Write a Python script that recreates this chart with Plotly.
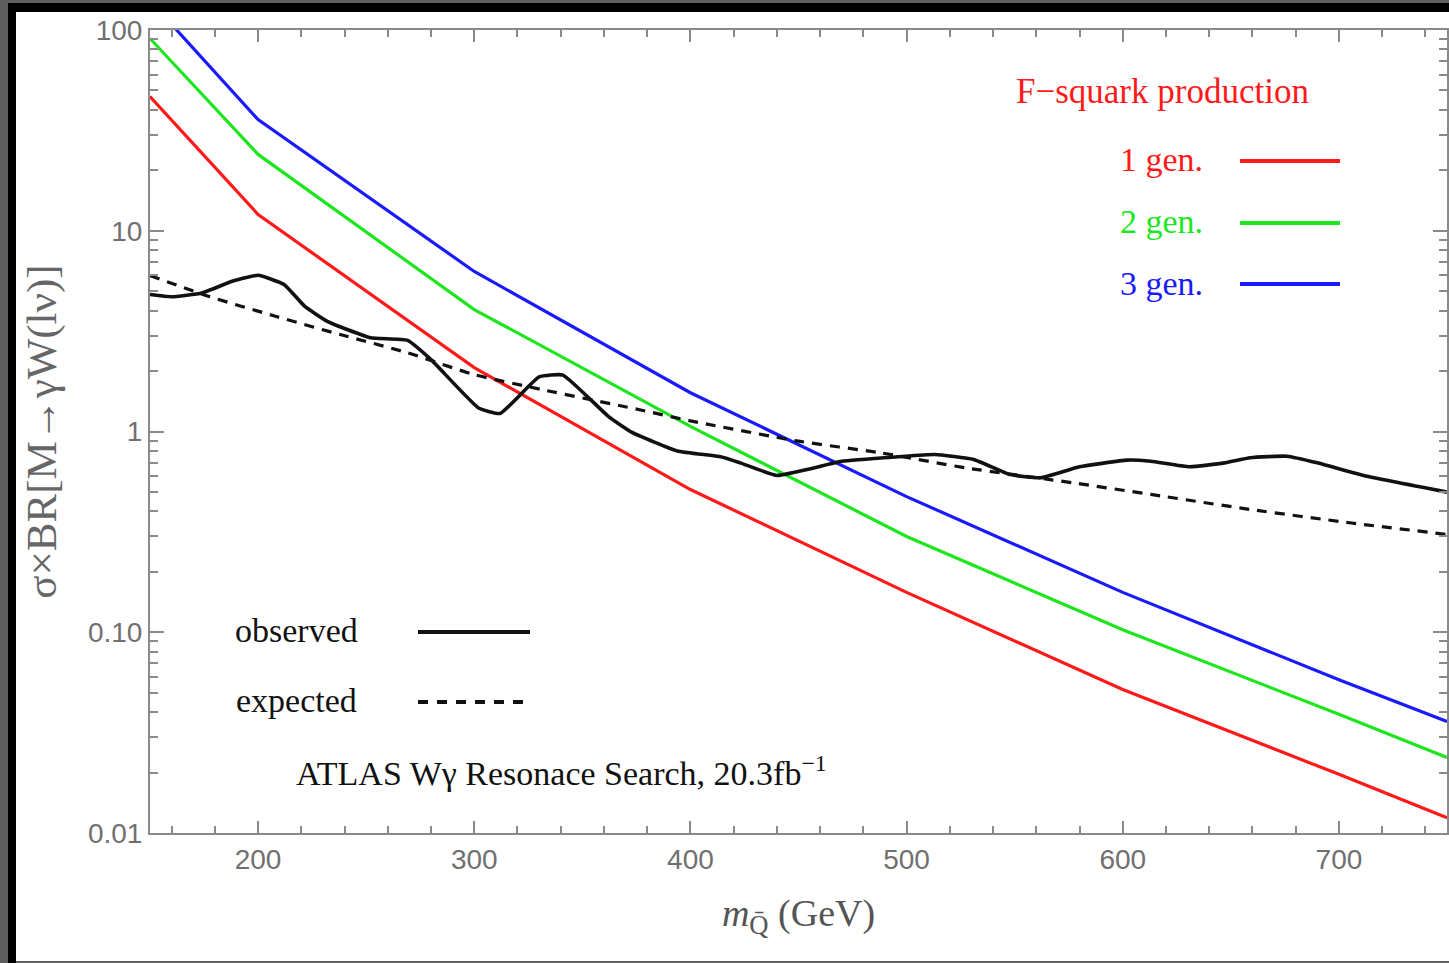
import plotly.graph_objects as go

# ---------------- data ----------------
mass_theory = [150, 200, 300, 400, 500, 600, 700, 750]
gen1 = [46.6, 12.05, 2.08, 0.514, 0.158, 0.0519, 0.0196, 0.0119]
gen2 = [90.7, 24.0, 4.05, 1.06, 0.30, 0.103, 0.039, 0.0238]
gen3 = [140.0, 35.8, 6.27, 1.56, 0.474, 0.158, 0.058, 0.0359]

obs_mass = [150, 160, 174, 188, 200, 212, 221.5, 232, 252, 269, 280, 302, 312, 330, 341,
            362, 373, 394, 414, 423, 440, 454, 470, 496, 513, 531, 548, 562, 580, 602,
            613, 631, 647, 659, 676, 690, 713, 750]
obs_xsec = [4.81, 4.69, 4.9, 5.6, 6.0, 5.4, 4.21, 3.54, 2.93, 2.85, 2.28, 1.31, 1.23, 1.87, 1.91,
            1.19, 0.99, 0.80, 0.748, 0.698, 0.604, 0.647, 0.711, 0.748, 0.768, 0.726, 0.61, 0.588, 0.667, 0.72,
            0.711, 0.667, 0.698, 0.74, 0.753, 0.698, 0.598, 0.499]

exp_mass = [150, 177, 208, 238, 269, 300, 331, 377, 400, 450, 488, 527, 577, 613, 659, 705, 750]
exp_xsec = [5.98, 4.72, 3.75, 3.04, 2.47, 1.92, 1.62, 1.28, 1.13, 0.895, 0.783, 0.66, 0.555, 0.486, 0.409, 0.351, 0.307]

y_tickvals = [0.01, 0.1, 1, 10, 100]
y_ticktext = ["0.01", "0.10", "1", "10", "100"]
x_tickvals = [200, 300, 400, 500, 600, 700]

# ---------------- figure ----------------
W, H = 1449, 963
L, R, T, B = 150, 2, 30, 130
PW, PH = W - L - R, H - T - B


def px2x(px):
    return (px - L) / PW


def py2y(py):
    return (H - B - py) / PH


fig = go.Figure()
fig.add_trace(go.Scatter(x=mass_theory, y=gen1, mode="lines", line=dict(color="#ff1a1a", width=3.2), showlegend=False))
fig.add_trace(go.Scatter(x=mass_theory, y=gen2, mode="lines", line=dict(color="#1ee61e", width=3.2), showlegend=False))
fig.add_trace(go.Scatter(x=mass_theory, y=gen3, mode="lines", line=dict(color="#1a1aff", width=3.2), showlegend=False))
fig.add_trace(go.Scatter(x=exp_mass, y=exp_xsec, mode="lines", line=dict(color="#111111", width=3.2, dash="10px,8px", shape="spline", smoothing=0.6), showlegend=False))
fig.add_trace(go.Scatter(x=obs_mass, y=obs_xsec, mode="lines", line=dict(color="#111111", width=3.6, shape="spline", smoothing=0.4), showlegend=False))

axis_col = "#8a8a8a"
tick_font = dict(family="Liberation Sans, Arial, sans-serif", size=28, color="#707070")
serif = "Liberation Serif, Times New Roman, serif"

fig.update_xaxes(range=[150, 750], tickvals=x_tickvals, ticks="inside", ticklen=12, tickwidth=2,
                 tickcolor=axis_col, showline=True, linecolor=axis_col, linewidth=2, mirror="allticks",
                 showgrid=False, zeroline=False, tickfont=tick_font,
                 minor=dict(dtick=20, ticks="inside", ticklen=7, tickwidth=2, tickcolor=axis_col, showgrid=False),
                 title=dict(text="<i>m</i><sub>Q\u0304</sub> (GeV)",
                            font=dict(family=serif, size=38, color="#555555"),
                            standoff=26))
fig.update_yaxes(type="log", range=[-2, 2], tickvals=y_tickvals, ticktext=y_ticktext, ticks="inside",
                 ticklen=14, tickwidth=2, tickcolor=axis_col, showline=True, linecolor=axis_col, linewidth=2,
                 mirror="allticks", showgrid=False, zeroline=False, tickfont=tick_font,
                 minor=dict(dtick="D1", ticks="inside", ticklen=8, tickwidth=2, tickcolor=axis_col, showgrid=False),
                 title=dict(text="σ×BR[M→γW(lν)]",
                            font=dict(family=serif, size=43, color="#666666"),
                            standoff=18))

annotations = [
    dict(text="F−squark production", x=px2x(1162), y=py2y(92), xanchor="center", font=dict(color="#ff1a1a", size=35)),
    dict(text="1 gen.", x=px2x(1118), y=py2y(160), xanchor="left", font=dict(color="#ff1a1a", size=34)),
    dict(text="2 gen.", x=px2x(1118), y=py2y(222), xanchor="left", font=dict(color="#1ee61e", size=34)),
    dict(text="3 gen.", x=px2x(1118), y=py2y(283), xanchor="left", font=dict(color="#1a1aff", size=34)),
    dict(text="observed", x=px2x(233), y=py2y(630), xanchor="left", font=dict(color="#111111", size=34)),
    dict(text="expected", x=px2x(234), y=py2y(700), xanchor="left", font=dict(color="#111111", size=34)),
    dict(text="ATLAS Wγ Resonace Search, 20.3fb<sup>−1</sup>", x=px2x(294), y=py2y(771), xanchor="left",
         font=dict(color="#111111", size=34)),
]
for a in annotations:
    a.update(xref="paper", yref="paper", yanchor="middle", showarrow=False)
    a["font"]["family"] = serif

shapes = [
    dict(type="line", x0=px2x(1240), x1=px2x(1340), y0=py2y(161), y1=py2y(161), line=dict(color="#ff1a1a", width=4)),
    dict(type="line", x0=px2x(1240), x1=px2x(1340), y0=py2y(223), y1=py2y(223), line=dict(color="#1ee61e", width=4)),
    dict(type="line", x0=px2x(1240), x1=px2x(1340), y0=py2y(284), y1=py2y(284), line=dict(color="#1a1aff", width=4)),
    dict(type="line", x0=px2x(418), x1=px2x(530), y0=py2y(632), y1=py2y(632), line=dict(color="#111111", width=4)),
    dict(type="line", x0=px2x(418), x1=px2x(532), y0=py2y(702), y1=py2y(702), line=dict(color="#111111", width=4, dash="10px,9px")),
    # image frame
    dict(type="rect", x0=px2x(0), x1=px2x(8), y0=py2y(H + 5), y1=py2y(-5), fillcolor="#5f5f5f", line=dict(width=0)),
    dict(type="rect", x0=px2x(8), x1=px2x(16), y0=py2y(H + 5), y1=py2y(3), fillcolor="#000000", line=dict(width=0)),
    dict(type="rect", x0=px2x(0), x1=px2x(W + 5), y0=py2y(3), y1=py2y(-5), fillcolor="#5f5f5f", line=dict(width=0)),
    dict(type="rect", x0=px2x(8), x1=px2x(W + 5), y0=py2y(12), y1=py2y(3), fillcolor="#000000", line=dict(width=0)),
    dict(type="rect", x0=px2x(16), x1=px2x(W + 5), y0=py2y(H + 5), y1=py2y(961), fillcolor="#5f5f5f", line=dict(width=0)),
]
for s in shapes:
    s.update(xref="paper", yref="paper")

fig.update_layout(width=W, height=H, margin=dict(l=L, r=R, t=T, b=B, autoexpand=False),
                  paper_bgcolor="white", plot_bgcolor="white", annotations=annotations, shapes=shapes,
                  showlegend=False)

fig.write_html("out.html", config={"displayModeBar": False},
               post_script="document.body.style.margin='0';document.body.style.overflow='hidden';")
